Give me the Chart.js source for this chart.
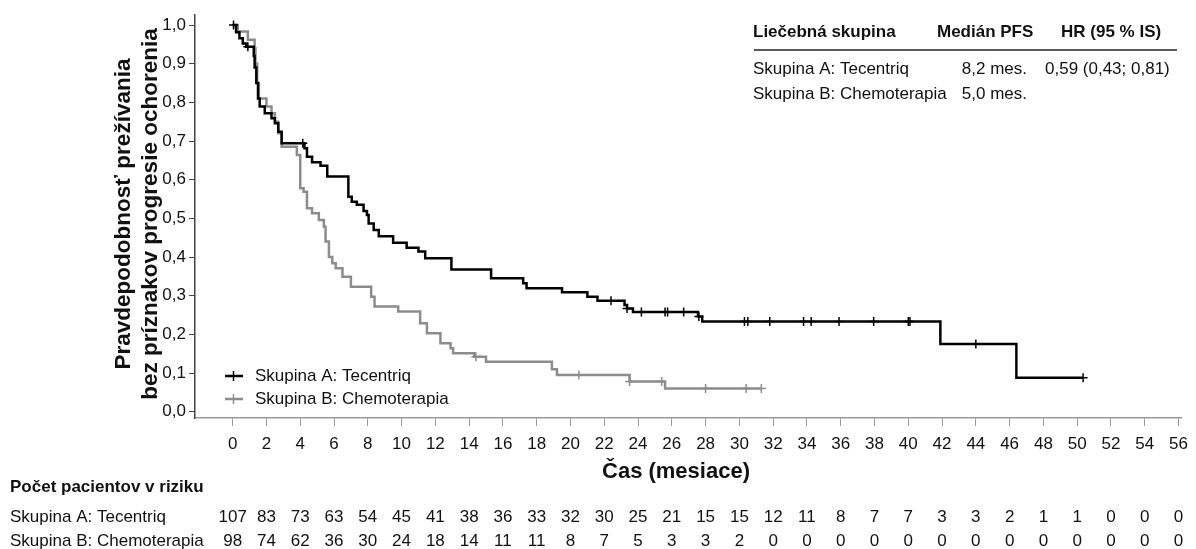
<!DOCTYPE html>
<html>
<head>
<meta charset="utf-8">
<title>PFS - Tecentriq vs chemoterapia</title>
<script src="https://cdn.jsdelivr.net/npm/chart.js"></script>
<style>
	html, body { margin: 0; padding: 0; background: #fff; }
	#wrap { width: 1196px; height: 549px; }
</style>
</head>
<body>
<div id="wrap"><canvas id="kmChart" width="1196" height="549"></canvas></div>
<script>
// Skupina A: Tecentriq (cas udalosti, odhad PFS)
const timeA = [0, 0.2, 0.4, 0.6, 0.8, 1.25, 1.3, 1.4, 1.5, 1.6, 1.9, 2.3, 2.5, 2.7, 2.9, 4.25, 4.4, 4.7, 5.2, 5.6, 6.85, 7.05, 7.35, 7.75, 7.95, 8.05, 8.35, 8.65, 9.5, 10.3, 11.0, 11.4, 12.95, 15.3, 17.2, 17.4, 19.5, 21.0, 21.6, 23.2, 23.35, 23.7, 27.55, 27.8, 41.9, 46.4, 50.35]
const survA = [1.0, 0.981, 0.966, 0.952, 0.944, 0.92, 0.89, 0.85, 0.81, 0.789, 0.772, 0.759, 0.746, 0.724, 0.694, 0.681, 0.659, 0.645, 0.636, 0.608, 0.556, 0.543, 0.535, 0.519, 0.509, 0.487, 0.47, 0.454, 0.437, 0.424, 0.414, 0.397, 0.368, 0.345, 0.332, 0.319, 0.309, 0.297, 0.287, 0.276, 0.267, 0.258, 0.246, 0.233, 0.175, 0.088, 0.088]
const censorA = [0.05, 0.9, 4.15, 22.4, 23.35, 24.2, 25.6, 25.75, 26.7, 27.6, 30.3, 30.5, 31.8, 33.8, 34.25, 35.9, 37.95, 40.0, 40.1, 44.0, 50.35]

// Skupina B: Chemoterapia
const timeB = [0, 0.3, 0.9, 1.3, 1.35, 1.45, 1.55, 2.0, 2.3, 2.5, 2.7, 2.9, 3.8, 4.0, 4.2, 4.4, 4.7, 5.1, 5.4, 5.5, 5.7, 5.9, 6.1, 6.5, 7.0, 8.2, 8.4, 9.8, 11.1, 11.5, 12.3, 12.9, 13.05, 14.3, 15.0, 18.9, 19.2, 23.5, 25.6, 31.3]
const survB = [1.0, 0.983, 0.962, 0.94, 0.9, 0.85, 0.81, 0.789, 0.772, 0.75, 0.72, 0.685, 0.664, 0.578, 0.569, 0.526, 0.513, 0.496, 0.478, 0.44, 0.40, 0.384, 0.371, 0.349, 0.323, 0.297, 0.272, 0.259, 0.229, 0.203, 0.177, 0.164, 0.151, 0.142, 0.129, 0.11, 0.095, 0.078, 0.06, 0.06]
const censorB = [14.4, 20.5, 23.5, 25.4, 28.0, 30.4, 31.3]

const xTicks = [0, 2, 4, 6, 8, 10, 12, 14, 16, 18, 20, 22, 24, 26, 28, 30, 32, 34, 36, 38, 40, 42, 44, 46, 48, 50, 52, 54, 56]
const yTicks = [0, 0.1, 0.2, 0.3, 0.4, 0.5, 0.6, 0.7, 0.8, 0.9, 1.0]

// pocet pacientov v riziku pri kazdom tiku osi x
const riskA = [107, 83, 73, 63, 54, 45, 41, 38, 36, 33, 32, 30, 25, 21, 15, 15, 12, 11, 8, 7, 7, 3, 3, 2, 1, 1, 0, 0, 0]
const riskB = [98, 74, 62, 36, 30, 24, 18, 14, 11, 11, 8, 7, 5, 3, 3, 2, 0, 0, 0, 0, 0, 0, 0, 0, 0, 0, 0, 0, 0]

const labelA = 'Skupina A: Tecentriq'
const labelB = 'Skupina B: Chemoterapia'
const colorA = '#000000'
const colorB = '#8c8c8c'

const FONT = '"Liberation Sans", Arial, sans-serif'

function stepPoints(times, values) {
	return times.map((t, i) => ({ x: t, y: values[i] }))
}

// hodnota krivky v case t (posledny krok <= t)
function valueAt(times, values, t) {
	var v = values[0]
	for (var i = 0; i < times.length; i++) {
		if (times[i] <= t) v = values[i]
	}
	return v
}

function censorPoints(censors, times, values) {
	return censors.map((t) => ({ x: t, y: valueAt(times, values, t) }))
}

const overlay = {
	id: 'overlay',
	afterDraw(chart) {
		const ctx = chart.ctx
		const xs = chart.scales.x
		ctx.save()
		ctx.fillStyle = '#111'

		// nazov osi y
		ctx.font = 'bold 22.5px ' + FONT
		ctx.textAlign = 'center'
		ctx.textBaseline = 'middle'
		ctx.save()
		ctx.translate(124, 214)
		ctx.rotate(-Math.PI / 2)
		ctx.fillText('Pravdepodobnosť prežívania', 0, 0)
		ctx.restore()
		ctx.save()
		ctx.translate(151, 214)
		ctx.rotate(-Math.PI / 2)
		ctx.fillText('bez príznakov progresie ochorenia', 0, 0)
		ctx.restore()

		// nazov osi x
		ctx.font = 'bold 22px ' + FONT
		ctx.fillText('Čas (mesiace)', 676, 472)

		// legenda
		ctx.font = '17px ' + FONT
		ctx.textAlign = 'left'
		;[[labelA, colorA, 376], [labelB, colorB, 399]].forEach(function (item) {
			ctx.strokeStyle = item[1]
			ctx.lineWidth = 2.5
			ctx.beginPath()
			ctx.moveTo(225, item[2])
			ctx.lineTo(243, item[2])
			ctx.stroke()
			ctx.lineWidth = 1.5
			ctx.beginPath()
			ctx.moveTo(233.5, item[2] - 5)
			ctx.lineTo(233.5, item[2] + 5)
			ctx.stroke()
			ctx.fillStyle = '#111'
			ctx.fillText(item[0], 255, item[2])
		})

		// tabulka vpravo hore
		ctx.font = 'bold 17px ' + FONT
		ctx.fillText('Liečebná skupina', 753, 32)
		ctx.fillText('Medián PFS', 937, 32)
		ctx.fillText('HR (95 % IS)', 1061, 32)
		ctx.strokeStyle = '#222'
		ctx.lineWidth = 1.5
		ctx.beginPath()
		ctx.moveTo(754, 50)
		ctx.lineTo(1177, 50)
		ctx.stroke()
		ctx.font = '17px ' + FONT
		ctx.fillText(labelA, 753, 69)
		ctx.fillText('0,59 (0,43; 0,81)', 1045, 69)
		ctx.fillText(labelB, 753, 94)
		ctx.textAlign = 'right'
		ctx.fillText('8,2 mes.', 1027, 69)
		ctx.fillText('5,0 mes.', 1027, 94)

		// pacienti v riziku
		ctx.textAlign = 'left'
		ctx.font = 'bold 17px ' + FONT
		ctx.fillText('Počet pacientov v riziku', 10, 487)
		ctx.font = '17px ' + FONT
		ctx.fillText(labelA, 10, 517)
		ctx.fillText(labelB, 10, 541)
		ctx.textAlign = 'center'
		xTicks.forEach(function (t, i) {
			var px = xs.getPixelForValue(t)
			ctx.fillText(String(riskA[i]), px, 517)
			ctx.fillText(String(riskB[i]), px, 541)
		})
		ctx.restore()
	},
}

const ctx = document.getElementById('kmChart')

new Chart(ctx, {
	type: 'line',
	data: {
		datasets: [
			{
				label: labelA,
				data: stepPoints(timeA, survA),
				borderColor: colorA,
				borderWidth: 2.5,
				stepped: 'before',
				pointRadius: 0,
				fill: false,
			},
			{
				label: labelA + ' (cenzúra)',
				data: censorPoints(censorA, timeA, survA),
				showLine: false,
				pointStyle: 'cross',
				pointRadius: 4.5,
				pointBorderWidth: 1.5,
				borderColor: colorA,
			},
			{
				label: labelB,
				data: stepPoints(timeB, survB),
				borderColor: colorB,
				borderWidth: 2.5,
				stepped: 'before',
				pointRadius: 0,
				fill: false,
			},
			{
				label: labelB + ' (cenzúra)',
				data: censorPoints(censorB, timeB, survB),
				showLine: false,
				pointStyle: 'cross',
				pointRadius: 4.5,
				pointBorderWidth: 1.5,
				borderColor: colorB,
			},
		],
	},
	options: {
		responsive: false,
		animation: false,
		layout: {
			padding: { left: 0, top: 15, right: 6, bottom: 0 },
		},
		scales: {
			x: {
				type: 'linear',
				min: -2.23,
				max: 56.16,
				afterBuildTicks: (scale) => {
					scale.ticks = xTicks.map((v) => ({ value: v }))
				},
				afterFit: (scale) => {
					scale.height = 131
				},
				grid: {
					drawOnChartArea: false,
					drawTicks: true,
					tickLength: 8,
					color: '#999',
				},
				border: { display: true, color: '#999', width: 1.5 },
				ticks: {
					padding: 8,
					maxRotation: 0,
					autoSkip: false,
					color: '#111',
					font: { family: FONT, size: 17 },
				},
			},
			y: {
				type: 'linear',
				min: -0.0163,
				max: 1.0259,
				afterBuildTicks: (scale) => {
					scale.ticks = yTicks.map((v) => ({ value: v }))
				},
				afterFit: (scale) => {
					scale.width = 195
				},
				grid: {
					drawOnChartArea: false,
					drawTicks: true,
					tickLength: 6,
					color: '#444',
				},
				border: { display: true, color: '#444', width: 1.5 },
				ticks: {
					padding: 3,
					color: '#111',
					font: { family: FONT, size: 17 },
					callback: (v) => v.toFixed(1).replace('.', ','),
				},
			},
		},
		plugins: {
			legend: { display: false },
			tooltip: { enabled: false },
		},
	},
	plugins: [overlay],
})
</script>
</body>
</html>
